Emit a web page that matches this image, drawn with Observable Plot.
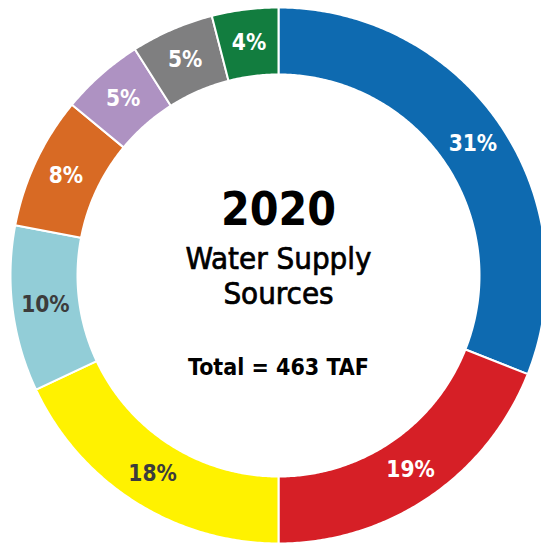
<!DOCTYPE html>
<html><head><meta charset="utf-8">
<script src="https://cdn.jsdelivr.net/npm/d3@7"></script>
<script src="https://cdn.jsdelivr.net/npm/@observablehq/plot@0.6"></script>
<style>
body{margin:0;background:#fff;overflow:hidden}
#chart svg{display:block}
</style>
</head><body><div id="chart"></div>
<script>
// Data
const sources = ["Source 1","Source 2","Source 3","Source 4","Source 5","Source 6","Source 7","Source 8"];
const shares = [31, 19, 18, 10, 8, 5, 5, 4];
const sliceColors = ["#0e6ab0","#d61f26","#fff200","#92cdd7","#d86a24","#ae92c2","#7f7f80","#127d3f"];
const labelColors = ["#ffffff","#ffffff","#3c3c3c","#3c3c3c","#ffffff","#ffffff","#ffffff","#ffffff"];
const titleText = "2020";
const subtitleLines = ["Water Supply","Sources"];
const totalText = "Total = 463 TAF";

// Geometry
const W = 541, H = 543;
const cx = 278, cy = 275;
const rOuter = 268, rInner = 201, rLabel = 235;
const total = d3.sum(shares);
const ends = d3.cumsum(shares);
const toXY = (a, r) => ({x: r * Math.sin(a), y: r * Math.cos(a)});

const polys = [];
const labelPts = [];
shares.forEach((v, i) => {
  const a0 = (ends[i] - v) / total * 2 * Math.PI;
  const a1 = ends[i] / total * 2 * Math.PI;
  const n = Math.max(2, Math.ceil((a1 - a0) / (Math.PI / 360)));
  for (let k = 0; k <= n; k++) {
    const a = a0 + (a1 - a0) * k / n;
    polys.push({source: sources[i], ...toXY(a, rOuter)});
  }
  for (let k = n; k >= 0; k--) {
    const a = a0 + (a1 - a0) * k / n;
    polys.push({source: sources[i], ...toXY(a, rInner)});
  }
  const am = (a0 + a1) / 2;
  labelPts.push({source: sources[i], label: `${v}%`, color: labelColors[i], ...toXY(am, rLabel)});
});

const font = "'DejaVu Sans Condensed', 'DejaVu Sans', sans-serif";

const chart = Plot.plot({
  width: W, height: H,
  margin: 0,
  style: {background: "#fff", fontFamily: font},
  x: {domain: [-cx, W - cx], axis: null},
  y: {domain: [-(H - cy), cy], axis: null},
  color: {domain: sources, range: sliceColors},
  marks: [
    Plot.line(polys, {x: "x", y: "y", z: "source", fill: "source", stroke: "#fff", strokeWidth: 2, curve: "linear-closed"}),
    Plot.text(labelPts, {x: "x", y: "y", text: "label", fill: "color", fontSize: 22.5, fontWeight: "bold", fontFamily: font}),
    Plot.text([titleText], {x: () => 0, y: () => 0, dy: -65, fontSize: 46, fontWeight: "bold", fill: "#000", fontFamily: font}),
    Plot.text([subtitleLines[0]], {x: () => 0, y: () => 0, dy: -16, fontSize: 31, fill: "#000", stroke: "#000", strokeWidth: 0.7, fontFamily: font}),
    Plot.text([subtitleLines[1]], {x: () => 0, y: () => 0, dy: 19, fontSize: 31, fill: "#000", stroke: "#000", strokeWidth: 0.7, fontFamily: font}),
    Plot.text([totalText], {x: () => 0, y: () => 0, dy: 92, fontSize: 23, fontWeight: "bold", fill: "#000", fontFamily: font})
  ]
});
document.getElementById("chart").append(chart);
</script>
</body></html>
